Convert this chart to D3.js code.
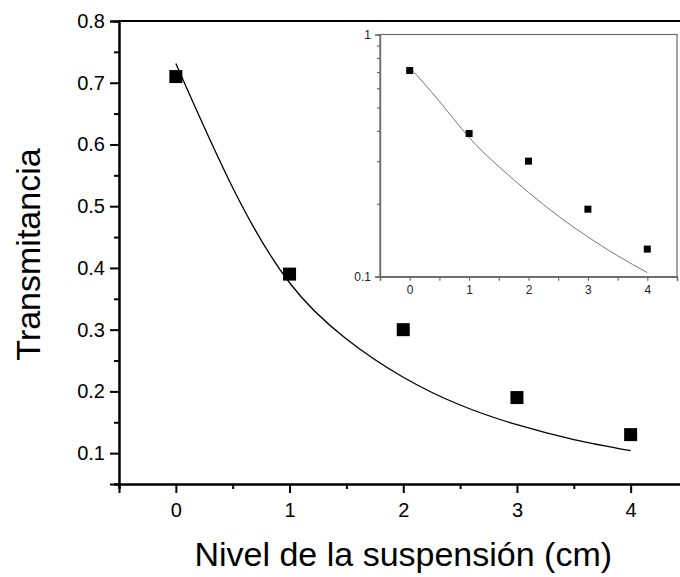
<!DOCTYPE html>
<html>
<head>
<meta charset="utf-8">
<script src="https://cdn.jsdelivr.net/npm/d3@7"></script>
<style>
  html, body { margin: 0; padding: 0; background: #fff; }
  svg { display: block; font-family: "Liberation Sans", Arial, sans-serif; }
</style>
</head>
<body>
<svg id="chart" width="680" height="577"></svg>
<script>
// ---- data ----
const levels = [0, 1, 2, 3, 4];
const transmittance = [0.71, 0.39, 0.30, 0.19, 0.13];
const fitX = [0, 0.5, 1, 1.5, 2, 2.5, 3, 3.5, 4];
const fitY = [0.731, 0.530, 0.376, 0.285, 0.223, 0.178, 0.146, 0.122, 0.104];
const xMajorTicks = [0, 1, 2, 3, 4];
const xMinorTicks = [-0.5, 0.5, 1.5, 2.5, 3.5, 4.5];
const yMajorTicks = [0.1, 0.2, 0.3, 0.4, 0.5, 0.6, 0.7, 0.8];
const yMinorTicks = [0.05, 0.15, 0.25, 0.35, 0.45, 0.55, 0.65, 0.75];
const insetYMajor = [0.1, 1];
const insetYMinor = [0.2, 0.3, 0.4, 0.5, 0.6, 0.7, 0.8, 0.9];
const xLabel = "Nivel de la suspensión (cm)";
const yLabel = "Transmitancia";

const points = levels.map((d, i) => ({x: d, y: transmittance[i]}));
const fit = fitX.map((d, i) => ({x: d, y: fitY[i]}));

const svg = d3.select("#chart");
svg.append("rect").attr("width", 680).attr("height", 577).attr("fill", "#fff");

// ---- main plot ----
const x = d3.scaleLinear().domain([-0.5, 4.5]).range([119, 687.5]);
const y = d3.scaleLinear().domain([0.05, 0.8]).range([484, 21]);

const g = svg.append("g");

g.append("line")
  .attr("x1", x.range()[0]).attr("x2", x.range()[1])
  .attr("y1", y(0.8)).attr("y2", y(0.8))
  .attr("stroke", "#000").attr("stroke-width", 2);

function styleAxis(sel, w, col) {
  sel.select(".domain").attr("stroke", col).attr("stroke-width", w);
  sel.selectAll(".tick line").attr("stroke", col).attr("stroke-width", w);
}

const yMinor = g.append("g").attr("transform", `translate(${x(-0.5)},0)`)
  .call(d3.axisLeft(y).tickValues(yMinorTicks).tickSize(5).tickFormat(""));
styleAxis(yMinor, 2, "#000");
const yMajor = g.append("g").attr("transform", `translate(${x(-0.5)},0)`)
  .call(d3.axisLeft(y).tickValues(yMajorTicks).tickSize(9).tickPadding(5).tickFormat(d3.format(".1f")));
styleAxis(yMajor, 2, "#000");
yMajor.selectAll("text").attr("font-size", 20).attr("fill", "#000")
  .attr("font-family", "'Liberation Sans', Arial, sans-serif");

const xMinor = g.append("g").attr("transform", `translate(0,${y(0.05)})`)
  .call(d3.axisBottom(x).tickValues(xMinorTicks).tickSize(5).tickFormat(""));
styleAxis(xMinor, 2, "#000");
const xMajor = g.append("g").attr("transform", `translate(0,${y(0.05)})`)
  .call(d3.axisBottom(x).tickValues(xMajorTicks).tickSize(9).tickPadding(10).tickFormat(d3.format("d")));
styleAxis(xMajor, 2, "#000");
xMajor.selectAll("text").attr("font-size", 20).attr("fill", "#000")
  .attr("font-family", "'Liberation Sans', Arial, sans-serif");

// fit curve
const line = d3.line().x(d => x(d.x)).y(d => y(d.y)).curve(d3.curveNatural);
g.append("path").datum(fit).attr("d", line)
  .attr("fill", "none").attr("stroke", "#000").attr("stroke-width", 1.3);

// data squares
const s = 13;
g.selectAll("rect.pt").data(points).join("rect").attr("class", "pt")
  .attr("x", d => x(d.x) - s / 2).attr("y", d => y(d.y) - s / 2)
  .attr("width", s).attr("height", s).attr("fill", "#000");

// axis titles
svg.append("text")
  .attr("x", (x.range()[0] + x.range()[1]) / 2).attr("y", 566)
  .attr("text-anchor", "middle").attr("font-size", 34).attr("fill", "#000")
  .text(xLabel);
svg.append("text")
  .attr("transform", `translate(40,${(y.range()[0] + y.range()[1]) / 2 + 2}) rotate(-90)`)
  .attr("text-anchor", "middle").attr("font-size", 34).attr("fill", "#000")
  .text(yLabel);

// ---- inset ----
const ix = d3.scaleLinear().domain([-0.5, 4.5]).range([380, 677]);
const iy = d3.scaleLog().domain([0.1, 1]).range([276.7, 34.5]);
const ig = svg.append("g");
const frameCol = "#6a6a6a";

ig.append("rect")
  .attr("x", ix.range()[0]).attr("y", iy.range()[1])
  .attr("width", ix.range()[1] - ix.range()[0])
  .attr("height", iy.range()[0] - iy.range()[1])
  .attr("fill", "#fff").attr("stroke", frameCol).attr("stroke-width", 1.2);

const iyMinor = ig.append("g").attr("transform", `translate(${ix(-0.5)},0)`)
  .call(d3.axisLeft(iy).tickValues(insetYMinor).tickSize(3).tickFormat(""));
styleAxis(iyMinor, 1.2, frameCol);
const iyMajor = ig.append("g").attr("transform", `translate(${ix(-0.5)},0)`)
  .call(d3.axisLeft(iy).tickValues(insetYMajor).tickSize(5).tickPadding(4).tickFormat(d => d === 1 ? "1" : "0.1"));
styleAxis(iyMajor, 1.2, frameCol);
iyMajor.selectAll("text").attr("font-size", 12).attr("fill", "#222")
  .attr("font-family", "'Liberation Sans', Arial, sans-serif");

const ixMinor = ig.append("g").attr("transform", `translate(0,${iy(0.1)})`)
  .call(d3.axisBottom(ix).tickValues(xMinorTicks).tickSize(4).tickFormat(""));
styleAxis(ixMinor, 1.2, frameCol);
const ixMajor = ig.append("g").attr("transform", `translate(0,${iy(0.1)})`)
  .call(d3.axisBottom(ix).tickValues(xMajorTicks).tickSize(4).tickPadding(5).tickFormat(d3.format("d")));
styleAxis(ixMajor, 1.2, frameCol);
ixMajor.selectAll("text").attr("font-size", 12).attr("fill", "#222")
  .attr("font-family", "'Liberation Sans', Arial, sans-serif");

const iline = d3.line().x(d => ix(d.x)).y(d => iy(d.y)).curve(d3.curveNatural);
ig.append("path").datum(fit).attr("d", iline)
  .attr("fill", "none").attr("stroke", "#777").attr("stroke-width", 1);

const is = 7;
ig.selectAll("rect.ipt").data(points).join("rect").attr("class", "ipt")
  .attr("x", d => ix(d.x) - is / 2).attr("y", d => iy(d.y) - is / 2)
  .attr("width", is).attr("height", is).attr("fill", "#000");
</script>
</body>
</html>
